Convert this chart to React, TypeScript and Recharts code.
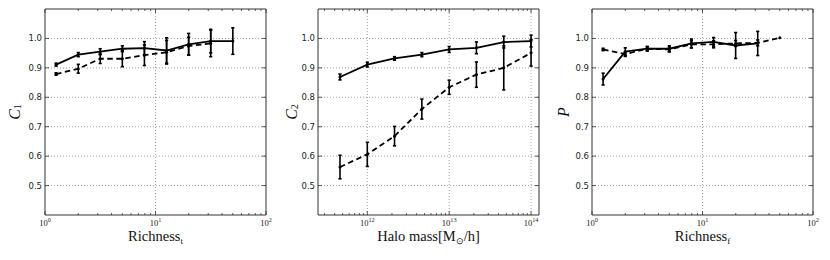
import { ErrorBar, Line, LineChart, ReferenceLine, XAxis, YAxis } from "recharts";

// bin centres (log spaced)
const richnessBins = [1.26, 2.0, 3.16, 5.01, 7.94, 12.6, 19.95, 31.6, 50.1];
const haloMassBins = [4.64e11, 1e12, 2.15e12, 4.64e12, 1e13, 2.15e13, 4.64e13, 1e14];

// C1 vs richness_t
const c1Solid = [0.911, 0.945, 0.955, 0.965, 0.967, 0.959, 0.98, 0.991, 0.991];
const c1SolidErr = [0.005, 0.007, 0.01, 0.01, 0.022, 0.043, 0.037, 0.04, 0.045];
const c1Dashed = [0.879, 0.897, 0.931, 0.931, 0.943, 0.953, 0.974, 0.983];
const c1DashedErr = [0.004, 0.015, 0.016, 0.027, 0.035, 0.04, 0.03, 0.045];

// C2 vs halo mass
const c2Solid = [0.869, 0.911, 0.932, 0.945, 0.9625, 0.968, 0.9875, 0.991];
const c2SolidErr = [0.01, 0.008, 0.006, 0.007, 0.01, 0.02, 0.02, 0.02];
const c2Dashed = [0.563, 0.606, 0.668, 0.76, 0.834, 0.877, 0.9, 0.951];
const c2DashedErr = [0.04, 0.041, 0.033, 0.034, 0.024, 0.043, 0.075, 0.045];

// P vs richness_f
const pSolid = [0.862, 0.955, 0.965, 0.965, 0.983, 0.988, 0.976, 0.983];
const pSolidErr = [0.02, 0.013, 0.008, 0.01, 0.015, 0.015, 0.044, 0.041];
const pDashed = [0.9625, 0.947, 0.965, 0.9625, 0.98, 0.98, 0.983, 0.985, 1.002];
const pDashedErr = [0.004, 0.008, 0.006, 0.008, 0.012, 0.012, 0.01, 0.01, 0];

const richnessTicks = [1, 2, 3, 4, 5, 6, 7, 8, 9, 10, 20, 30, 40, 50, 60, 70, 80, 90, 100];
const haloTicks = [
  3e11, 4e11, 5e11, 6e11, 7e11, 8e11, 9e11,
  1e12, 2e12, 3e12, 4e12, 5e12, 6e12, 7e12, 8e12, 9e12,
  1e13, 2e13, 3e13, 4e13, 5e13, 6e13, 7e13, 8e13, 9e13, 1e14,
];
const valueTicks = [0.5, 0.6, 0.7, 0.8, 0.9, 1.0];

const PLOT_W = 221;
const PLOT_H = 206;
const MARGIN = { top: 9, right: 14, bottom: 20, left: 15 };
const FRAME = "#333";

const toRows = (xs: number[], ys: number[], errs: number[]) =>
  ys.map((y, i) => ({ x: xs[i], y, err: errs[i] }));

function LogTick(props: any) {
  const { x, y, payload } = props;
  const exp = Math.log10(payload.value);
  const major = Math.abs(exp - Math.round(exp)) < 1e-6;
  const len = major ? 4 : 2;
  return (
    <g>
      <line x1={x} x2={x} y1={y} y2={y - len} stroke={FRAME} strokeWidth={0.8} />
      <line x1={x} x2={x} y1={y - PLOT_H} y2={y - PLOT_H + len} stroke={FRAME} strokeWidth={0.8} />
      {major && (
        <text x={x} y={y + 10.5} textAnchor="middle" fontFamily="Liberation Serif" fontSize={8.5} fill="#222">
          10<tspan dy={-3.5} fontSize={6.2}>{Math.round(exp)}</tspan>
        </text>
      )}
    </g>
  );
}

function ValueTick(props: any) {
  const { x, y, payload } = props;
  return (
    <g>
      <line x1={x} x2={x + 4} y1={y} y2={y} stroke={FRAME} strokeWidth={0.8} />
      <line x1={x + PLOT_W} x2={x + PLOT_W - 4} y1={y} y2={y} stroke={FRAME} strokeWidth={0.8} />
      <text x={x - 3} y={y} dy="0.35em" textAnchor="end" fontFamily="DejaVu Sans" fontSize={8.5} fill="#222">
        {Number(payload.value).toFixed(1)}
      </text>
    </g>
  );
}

interface PanelProps {
  left: number;
  domain: [number, number];
  ticks: number[];
  grid: number[];
  solid: { x: number; y: number; err: number }[];
  dashed: { x: number; y: number; err: number }[];
  xTitle: React.ReactNode;
  yTitle: React.ReactNode;
  yTitleOffset: number;
}

function Panel({ left, domain, ticks, grid, solid, dashed, xTitle, yTitle, yTitleOffset }: PanelProps) {
  return (
    <div style={{ position: "absolute", left, top: 0 }}>
      <LineChart width={280} height={260} margin={MARGIN}>
        <XAxis
          dataKey="x" type="number" scale="log" domain={domain} allowDataOverflow
          ticks={ticks} interval={0} tick={<LogTick />} tickLine={false}
          tickSize={0} tickMargin={0} height={25} stroke={FRAME}
          label={{
            content: (p: any) => (
              <text x={p.viewBox.x + p.viewBox.width / 2} y={p.viewBox.y + 26} textAnchor="middle"
                fontFamily="Liberation Serif" fontSize={14.5} fill="#111">
                {xTitle}
              </text>
            ),
          }}
        />
        <YAxis
          type="number" domain={[0.4, 1.1]} ticks={valueTicks} interval={0}
          tick={<ValueTick />} tickLine={false} tickSize={0} tickMargin={0} width={30} stroke={FRAME}
          label={{
            content: (p: any) => {
              const cx = p.viewBox.x + p.viewBox.width - yTitleOffset;
              const cy = p.viewBox.y + p.viewBox.height / 2;
              return (
                <text x={cx} y={cy} transform={`rotate(-90 ${cx} ${cy})`} textAnchor="middle"
                  dominantBaseline="central" fontFamily="Liberation Serif" fontSize={16} fill="#111">
                  {yTitle}
                </text>
              );
            },
          }}
        />
        {valueTicks.map((v) => (
          <ReferenceLine key={`h${v}`} y={v} stroke="#888" strokeDasharray="1 2" strokeWidth={0.8} />
        ))}
        {grid.map((v) => (
          <ReferenceLine key={`v${v}`} x={v} stroke="#888" strokeDasharray="1 2" strokeWidth={0.8} />
        ))}
        <ReferenceLine y={1.1} stroke={FRAME} ifOverflow="visible" />
        <ReferenceLine x={domain[1]} stroke={FRAME} ifOverflow="visible" />
        <Line data={dashed} dataKey="y" stroke="#000" strokeWidth={1.8} strokeDasharray="5.5 3.5"
          dot={{ r: 1.5, fill: "#000", stroke: "none" }} isAnimationActive={false}>
          <ErrorBar dataKey="err" direction="y" width={1.6} stroke="#000" strokeWidth={1.6} isAnimationActive={false} />
        </Line>
        <Line data={solid} dataKey="y" stroke="#000" strokeWidth={1.8}
          dot={{ r: 1.5, fill: "#000", stroke: "none" }} isAnimationActive={false}>
          <ErrorBar dataKey="err" direction="y" width={1.6} stroke="#000" strokeWidth={1.6} isAnimationActive={false} />
        </Line>
      </LineChart>
    </div>
  );
}

export default function App() {
  return (
    <div style={{ position: "absolute", left: 0, top: 0, width: 830, height: 260, background: "#fff" }}>
      <Panel
        left={0} domain={[1, 100]} ticks={richnessTicks} grid={[10]}
        solid={toRows(richnessBins, c1Solid, c1SolidErr)}
        dashed={toRows(richnessBins, c1Dashed, c1DashedErr)}
        xTitle={<>Richness<tspan dy={3} fontSize={9}>t</tspan></>}
        yTitle={<><tspan fontStyle="italic">C</tspan><tspan dy={3} fontSize={10}>1</tspan></>}
        yTitleOffset={31}
      />
      <Panel
        left={273.3} domain={[2.5e11, 1.25e14]} ticks={haloTicks} grid={[1e12, 1e13, 1e14]}
        solid={toRows(haloMassBins, c2Solid, c2SolidErr)}
        dashed={toRows(haloMassBins, c2Dashed, c2DashedErr)}
        xTitle={<>Halo mass[M<tspan dy={3} fontSize={9}>⊙</tspan><tspan dy={-3}>/h]</tspan></>}
        yTitle={<><tspan fontStyle="italic">C</tspan><tspan dy={3} fontSize={10}>2</tspan></>}
        yTitleOffset={26.6}
      />
      <Panel
        left={547.3} domain={[1, 100]} ticks={richnessTicks} grid={[10]}
        solid={toRows(richnessBins, pSolid, pSolidErr)}
        dashed={toRows(richnessBins, pDashed, pDashedErr)}
        xTitle={<>Richness<tspan dy={3} fontSize={9}>f</tspan></>}
        yTitle={<tspan fontStyle="italic">P</tspan>}
        yTitleOffset={29.3}
      />
    </div>
  );
}
